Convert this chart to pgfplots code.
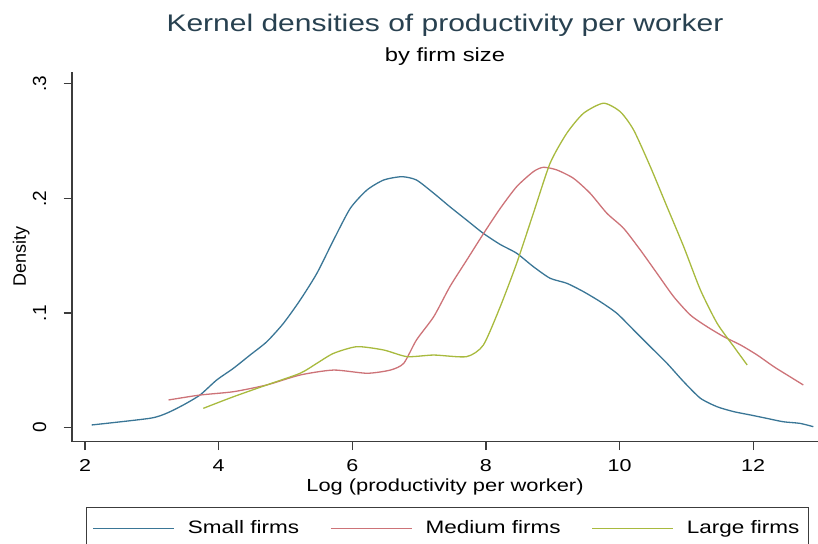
\documentclass[border=0pt]{standalone}
\usepackage{fontspec}
\setmainfont{Liberation Sans}[FakeStretch=1.25]
\newfontfamily\rotfont{Liberation Sans}
\usepackage{pgfplots}
\pgfplotsset{compat=1.18}
\definecolor{smallc}{RGB}{58,118,150}
\definecolor{medc}{RGB}{205,115,120}
\definecolor{largec}{RGB}{168,186,62}
\definecolor{titlec}{RGB}{40,65,80}
\definecolor{axc}{RGB}{60,60,60}
\begin{document}
\begin{tikzpicture}
\begin{axis}[
  scale only axis,
  width=373pt, height=185pt,
  xmin=1.805, xmax=12.97,
  ymin=-0.0122, ymax=0.3106,
  axis lines*=left,
  axis line style={axc, line width=0.6pt},
  tick style={axc, line width=0.6pt},
  tick align=outside,
  major tick length=4.2pt,
  xtick={2,4,6,8,10,12},
  xticklabels={2,4,6,8,10,12},
  ytick={0,0.1,0.2,0.3},
  yticklabels={0,.1,.2,.3},
  xticklabel style={font=\fontsize{8.6}{10}\selectfont, anchor=north, inner sep=0pt, yshift=-4.5pt},
  yticklabel style={font=\rotfont\fontsize{9.5}{11}\selectfont, xshift=-8.5pt, rotate=90, anchor=south, inner sep=0pt},
  xlabel={Log (productivity per worker)},
  xlabel style={font=\fontsize{8.75}{11}\selectfont, at={([yshift=-25pt]axis description cs:0.5,0)}, anchor=base, inner sep=0pt},
  ylabel={Density},
  ylabel style={font=\rotfont\fontsize{9}{11}\selectfont, at={([xshift=-21pt]axis description cs:0,0.5)}, anchor=south, inner sep=0pt},
  legend columns=3,
  legend style={at={([xshift=7pt,yshift=-32.65pt]axis description cs:0,0)}, anchor=north west,
    draw=axc, line width=0.5pt, font=\fontsize{9}{11}\selectfont,
    inner xsep=3pt, inner ysep=5pt,
    nodes={inner sep=1.5pt},
    /tikz/every even column/.append style={column sep=14pt},
    /tikz/every odd column/.append style={column sep=5pt}},
  legend image code/.code={\draw[#1, line width=0.7pt] (0pt,0pt) -- (40.5pt,0pt);},
  clip=false,
]
\addplot[smallc, line width=0.65pt, smooth, tension=0.4] coordinates {
(2.10,0.0024)(2.97,0.0082)(3.22,0.0126)(3.47,0.0198)(3.72,0.0285)(3.97,0.0416)
(4.22,0.0518)(4.47,0.0634)(4.72,0.0750)(4.97,0.0911)(5.22,0.1114)(5.47,0.1347)
(5.72,0.1638)(5.97,0.1914)(6.22,0.2074)(6.47,0.2161)(6.74,0.2190)(6.96,0.2161)
(7.22,0.2045)(7.46,0.1928)(7.71,0.1812)(7.96,0.1696)(8.21,0.1600)(8.46,0.1522)
(8.71,0.1405)(8.96,0.1304)(9.21,0.1260)(9.46,0.1187)(9.71,0.1100)(9.96,0.0998)
(10.21,0.0853)(10.46,0.0707)(10.71,0.0562)(10.96,0.0401)(11.21,0.0257)(11.46,0.0183)
(11.71,0.0140)(11.96,0.0111)(12.20,0.0082)(12.45,0.0052)(12.70,0.0038)(12.90,0.0009)
};
\addlegendentry{Small firms}
\addplot[medc, line width=0.65pt, smooth, tension=0.4] coordinates {
(3.25,0.0242)(3.72,0.0285)(4.22,0.0314)(4.72,0.0373)(5.22,0.0460)(5.72,0.0503)
(6.22,0.0475)(6.57,0.0503)(6.77,0.0562)(6.96,0.0765)(7.22,0.0970)(7.46,0.1230)
(7.71,0.1460)(7.96,0.1690)(8.21,0.1910)(8.46,0.2103)(8.71,0.2234)(8.86,0.2272)
(9.06,0.2249)(9.31,0.2176)(9.56,0.2045)(9.81,0.1871)(10.06,0.1740)(10.31,0.1551)
(10.56,0.1347)(10.81,0.1143)(11.06,0.0983)(11.31,0.0881)(11.56,0.0794)(11.81,0.0722)
(12.06,0.0634)(12.31,0.0532)(12.55,0.0445)(12.75,0.0373)
};
\addlegendentry{Medium firms}
\addplot[largec, line width=0.65pt, smooth, tension=0.4] coordinates {
(3.77,0.0169)(4.22,0.0270)(4.72,0.0373)(5.22,0.0475)(5.47,0.0562)(5.72,0.0649)
(6.07,0.0707)(6.47,0.0678)(6.82,0.0620)(7.22,0.0634)(7.71,0.0620)(7.96,0.0720)
(8.21,0.1050)(8.46,0.1434)(8.71,0.1871)(8.96,0.2307)(9.21,0.2569)(9.46,0.2743)
(9.76,0.2831)(10.01,0.2757)(10.21,0.2598)(10.46,0.2278)(10.71,0.1928)(10.96,0.1579)
(11.21,0.1202)(11.46,0.0911)(11.71,0.0707)(11.91,0.0547)
};
\addlegendentry{Large firms}
\node[font=\fontsize{12}{14}\selectfont, color=titlec, anchor=base, inner sep=0pt] at ([yshift=20pt]axis description cs:0.5,1) {Kernel densities of productivity per worker};
\node[font=\fontsize{9.5}{12}\selectfont, anchor=base, inner sep=0pt] at ([yshift=5pt]axis description cs:0.5,1) {by firm size};
\end{axis}
\pgfresetboundingbox
\path[use as bounding box] (-36pt,-51.15pt) rectangle (373pt,220.85pt);
\end{tikzpicture}
\end{document}
